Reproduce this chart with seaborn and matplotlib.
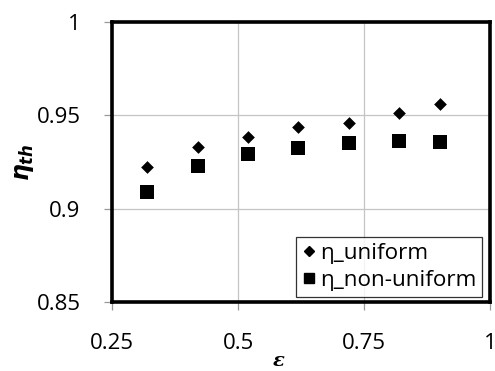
import matplotlib
matplotlib.use("Agg")
import matplotlib.pyplot as plt
from matplotlib.lines import Line2D
import seaborn as sns
import pandas as pd

eps = [0.32, 0.42, 0.52, 0.62, 0.72, 0.82, 0.90]
eta_uniform = [0.9225, 0.9332, 0.9386, 0.9439, 0.9459, 0.9512, 0.9562]
eta_nonuniform = [0.9089, 0.9230, 0.9291, 0.9327, 0.9353, 0.9362, 0.9357]
xticks = [0.25, 0.5, 0.75, 1.0]
xtick_labels = ["0.25", "0.5", "0.75", "1"]
yticks = [0.85, 0.9, 0.95, 1.0]
ytick_labels = ["0.85", "0.9", "0.95", "1"]
series_labels = ["η_uniform", "η_non-uniform"]

sns.set_theme(style="white")
plt.rcParams['font.family'] = ['Open Sans', 'DejaVu Sans']
plt.rcParams['mathtext.fontset'] = 'custom'
plt.rcParams['mathtext.it'] = 'DejaVu Sans:italic:bold'
plt.rcParams['mathtext.rm'] = 'DejaVu Sans:bold'

fig = plt.figure(figsize=(4.95, 3.71), dpi=100)
ax = fig.add_axes([112/495, 1-302/371, 378/495, 280/371])

df_u = pd.DataFrame({"x": eps, "y": eta_uniform})
df_n = pd.DataFrame({"x": eps, "y": eta_nonuniform})
sns.scatterplot(data=df_u, x="x", y="y", marker="D", s=42, color="black",
                linewidth=0, ax=ax, legend=False, zorder=3)
sns.scatterplot(data=df_n, x="x", y="y", marker="s", s=100, color="black",
                linewidth=0, ax=ax, legend=False, zorder=3)

ax.set_xlim(0.25, 1.0)
ax.set_ylim(0.85, 1.0)
ax.set_xticks(xticks)
ax.set_xticklabels(xtick_labels)
ax.set_yticks(yticks)
ax.set_yticklabels(ytick_labels)
ax.grid(True, color="#c4c4c4", linewidth=0.9)
ax.set_axisbelow(True)
for sp in ax.spines.values():
    sp.set_visible(True)
    sp.set_color("black")
    sp.set_linewidth(2.6)
ax.tick_params(axis="both", which="major", labelsize=16, labelcolor="black",
               color="#999999", length=6, width=0.9, direction="out",
               left=True, bottom=True)
ax.tick_params(axis="y", pad=16.5)
ax.tick_params(axis="x", pad=16)

ax.set_ylabel(r"$\eta_{th}$", fontsize=17, color="black")
ax.yaxis.set_label_coords(-0.2, 0.5)
ax.set_xlabel("ε", fontsize=14, family="DejaVu Serif", style="italic",
              fontweight="bold", color="black")
ax.xaxis.set_label_coords(0.442, -0.178)

handles = [Line2D([], [], marker="D", markersize=4.6, color="black", linestyle="none"),
           Line2D([], [], marker="s", markersize=7.7, color="black", linestyle="none")]
leg = ax.legend(handles, series_labels, loc="lower right",
                bbox_to_anchor=(0.979, 0.018),
                borderaxespad=0, frameon=True, fancybox=False,
                edgecolor="black", fontsize=16.2, handletextpad=0.2,
                handlelength=0.6, borderpad=0.25, labelspacing=0.3)
leg.get_frame().set_linewidth(0.9)
for t in leg.get_texts():
    t.set_color("black")

fig.savefig("out.png", dpi=100)
